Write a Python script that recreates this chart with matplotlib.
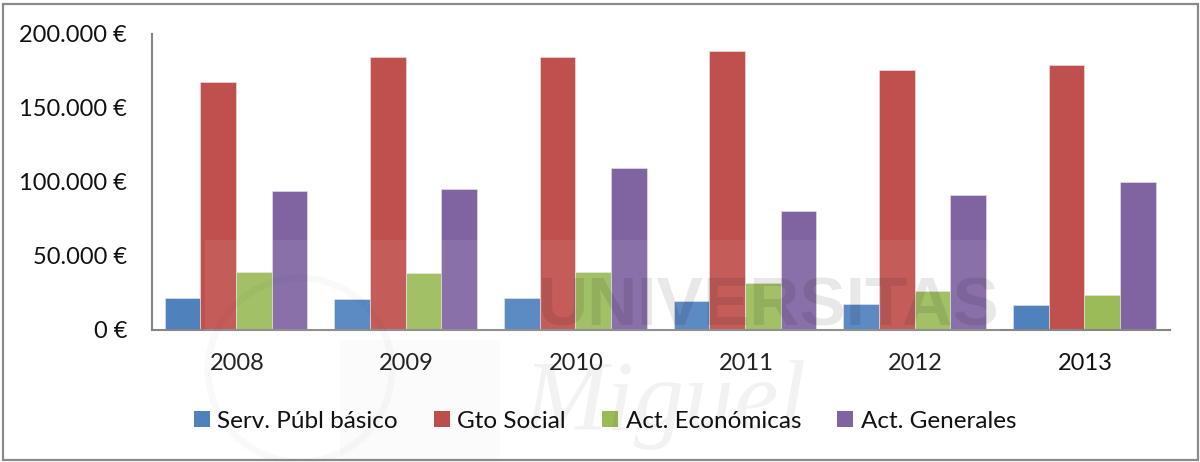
import numpy as np
import matplotlib
matplotlib.use("Agg")
import matplotlib.pyplot as plt
from matplotlib.patches import Rectangle, Circle

years = ["2008", "2009", "2010", "2011", "2012", "2013"]
serv_publ = [21000, 20700, 21000, 19300, 17300, 16400]
gto_social = [167600, 184600, 184600, 188600, 175700, 179000]
act_econ = [39100, 38300, 38600, 31700, 26300, 23600]
act_gen = [93800, 95200, 109300, 80200, 91000, 99800]

series_names = ["Serv. Públ básico", "Gto Social", "Act. Económicas", "Act. Generales"]
colors = ["#4f81bd", "#c0504d", "#9bbb59", "#8064a2"]
y_ticks = [0, 50000, 100000, 150000, 200000]
y_labels = ["0 €", "50.000 €", "100.000 €", "150.000 €", "200.000 €"]

W, H = 1200, 462
plt.rcParams["font.family"] = ["Lato", "DejaVu Sans"]

fig = plt.figure(figsize=(W / 100, H / 100), dpi=100)
ax = fig.add_axes([152 / W, 1 - 329.5 / H, (1170 - 152) / W, (329.5 - 34) / H])
ax.patch.set_alpha(0)

x = np.arange(len(years))
w = 0.21
all_series = [serv_publ, gto_social, act_econ, act_gen]
for i, vals in enumerate(all_series):
    ax.bar(x + (i - 1.5) * w - 0.005, vals, w, color=colors[i], edgecolor="#e8e8e8",
           linewidth=0.4, label=series_names[i])

ax.set_xlim(-0.5, 5.5)
ax.set_ylim(0, 200000)
ax.set_xticks(x)
ax.set_xticklabels(years)
ax.set_yticks(y_ticks)
ax.set_yticklabels(y_labels)
ax.tick_params(axis="both", length=0, labelsize=17, labelcolor="#111111")
ax.tick_params(axis="x", pad=17)
ax.tick_params(axis="y", pad=18)
for s in ["top", "right"]:
    ax.spines[s].set_visible(False)
for s in ["left", "bottom"]:
    ax.spines[s].set_color("#868686")
    ax.spines[s].set_linewidth(1.5)

leg = fig.legend(loc="center", bbox_to_anchor=(605 / W, 1 - 421 / H), ncol=4,
                 frameon=False, fontsize=17.5, handlelength=0.66, handleheight=0.66,
                 handletextpad=0.3, columnspacing=1.49, labelcolor="#111111")
for h in leg.legend_handles:
    h.set_edgecolor("none")

# watermark of the source document, pale over everything
fig.add_artist(Rectangle((205 / W, 0), 795 / W, 1 - 240 / H, transform=fig.transFigure,
                         facecolor="white", alpha=0.08, edgecolor="none", zorder=5))
fig.add_artist(Circle((3.0, (H - 370) / 100), 0.92, transform=fig.dpi_scale_trans,
                      facecolor="none", edgecolor="#000000", linewidth=5, alpha=0.025, zorder=6))
fig.add_artist(Rectangle((340 / W, 0), 160 / W, 1 - 340 / H, transform=fig.transFigure,
                         facecolor="#000000", alpha=0.015, edgecolor="none", zorder=6))
fig.text(769 / W, 1 - 307 / H, "UNIVERSITAS", ha="center", va="center", fontsize=50,
         fontweight="bold", color="#000000", alpha=0.09, zorder=7,
         family=["Liberation Sans", "DejaVu Sans"])
fig.text(665 / W, 1 - 405 / H, "Miguel", ha="center", va="center", fontsize=72,
         style="italic", color="#000000", alpha=0.05, zorder=7,
         family=["Liberation Serif", "DejaVu Serif"])

# outer frame
fig.add_artist(Rectangle((2.5 / W, 1 - 459.5 / H), 1195 / W, 455.5 / H, transform=fig.transFigure,
                         facecolor="none", edgecolor="#8a8a8a", linewidth=1.6, zorder=8))

fig.savefig("out.png", dpi=100)
